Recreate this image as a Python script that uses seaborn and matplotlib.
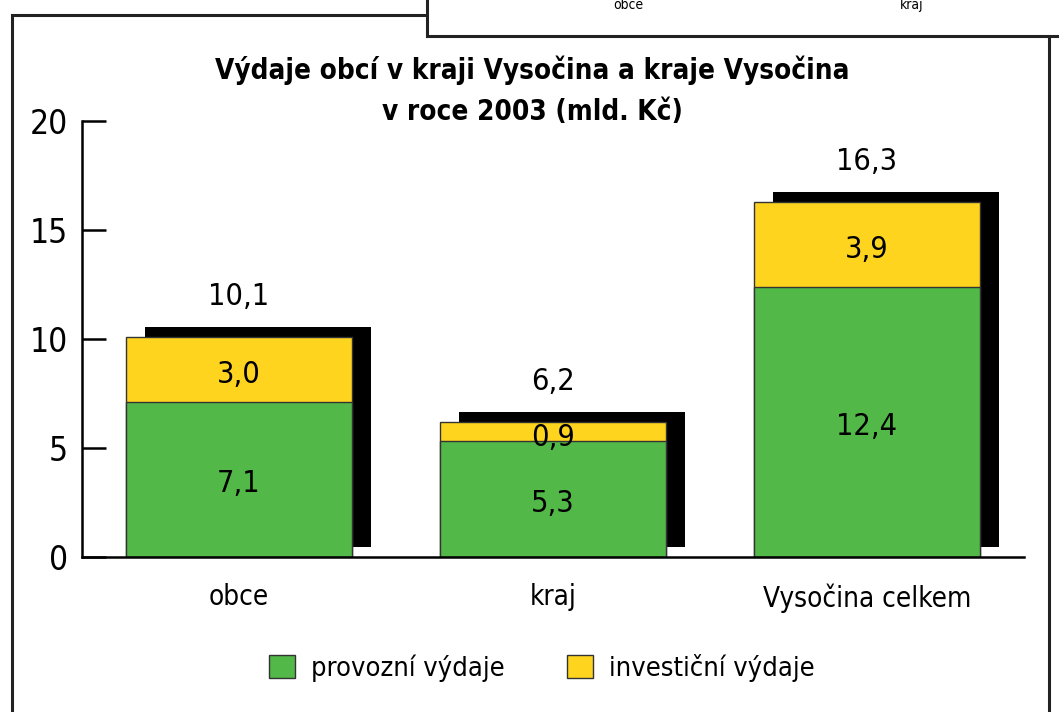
import matplotlib
matplotlib.use("Agg")
import matplotlib.pyplot as plt
import matplotlib.transforms as mtransforms
from matplotlib.patches import Rectangle, Patch
from matplotlib import font_manager
import seaborn as sns
import pandas as pd

categories = ["obce", "kraj", "Vysočina celkem"]
provozni = [7.1, 5.3, 12.4]
investicni = [3.0, 0.9, 3.9]
totals = [10.1, 6.2, 16.3]
yticks = [0, 5, 10, 15, 20]
series_names = ["provozní výdaje", "investiční výdaje"]
title = "Výdaje obcí v kraji Vysočina a kraje Vysočina\nv roce 2003 (mld. Kč)"

GREEN = "#52B848"
YELLOW = "#FFD41F"

sns.set_theme(style="white")
names = {f.name for f in font_manager.fontManager.ttflist}
fam = "Liberation Sans Narrow" if "Liberation Sans Narrow" in names else "DejaVu Sans"
plt.rcParams["font.family"] = [fam, "DejaVu Sans"]
plt.rcParams["font.stretch"] = "condensed"
plt.rcParams["text.color"] = "black"
plt.rcParams["xtick.color"] = "black"
plt.rcParams["ytick.color"] = "black"
plt.rcParams["xtick.labelcolor"] = "black"
plt.rcParams["ytick.labelcolor"] = "black"

W, H = 1059, 712
fig = plt.figure(figsize=(W / 100, H / 100), dpi=100)
fig.patch.set_facecolor("white")

# frames
fig.patches.append(Rectangle((12 / W, -0.05), (1049 - 12) / W, (H - 15) / H + 0.05,
                             transform=fig.transFigure, fill=False, ec="#222222", lw=2.2))
fig.patches.append(Rectangle((427 / W, (H - 36) / H), 0.7, 0.2,
                             transform=fig.transFigure, fc="white", ec="#222222", lw=2.2))
fig.text(628 / W, (H - 12) / H, "obce", ha="center", va="bottom", fontsize=10, color="black")
fig.text(912 / W, (H - 12) / H, "kraj", ha="center", va="bottom", fontsize=10, color="black")

ax = fig.add_axes([82 / W, (H - 557) / H, (1024 - 82) / W, 436 / H])
ax.set_facecolor("none")

df = pd.DataFrame({"cat": categories, "prov": provozni, "inv": investicni, "tot": totals})

# shadow
shadow = mtransforms.offset_copy(ax.transData, fig=fig, x=19, y=10, units="dots")
sns.barplot(data=df, x="cat", y="tot", color="black", width=0.72, ax=ax,
            saturation=1, edgecolor="none", linewidth=0)
for p in ax.patches:
    p.set_transform(shadow)
    p.set_zorder(1)
n0 = len(ax.patches)
sns.barplot(data=df, x="cat", y="tot", color=YELLOW, width=0.72, ax=ax,
            saturation=1, edgecolor="#333333", linewidth=1)
sns.barplot(data=df, x="cat", y="prov", color=GREEN, width=0.72, ax=ax,
            saturation=1, edgecolor="#333333", linewidth=1)
for p in ax.patches[n0:]:
    p.set_zorder(2)

fs = 22
for i in range(len(categories)):
    ax.text(i, totals[i] + 1.85, f"{totals[i]:.1f}".replace(".", ","), ha="center",
            va="center", fontsize=fs, zorder=5)
    ax.text(i, provozni[i] / 2 - 0.2, f"{provozni[i]:.1f}".replace(".", ","), ha="center",
            va="center", fontsize=fs, zorder=5)
    ax.text(i, provozni[i] + investicni[i] / 2 - 0.25, f"{investicni[i]:.1f}".replace(".", ","),
            ha="center", va="center", fontsize=fs, zorder=5)

ax.set_xlim(-0.5, 2.5)
ax.set_ylim(0, 20)
ax.set_yticks(yticks)
ax.set_yticklabels([str(t) for t in yticks], fontsize=24)
ax.set_xticks([0.5, 1.5, 2.5])
ax.set_xticks([0, 1, 2], minor=True)
ax.set_xticklabels([])
ax.set_xticklabels(categories, minor=True, fontsize=20)
ax.tick_params(axis="x", which="major", direction="in", length=7, width=1.8, color="black")
ax.tick_params(axis="x", which="minor", length=0, pad=19)
ax.tick_params(axis="y", direction="in", length=17, width=1.8, color="black", pad=10, left=True)
ax.set_xlabel("")
ax.set_ylabel("")
for s in ["top", "right"]:
    ax.spines[s].set_visible(False)
for s in ["left", "bottom"]:
    ax.spines[s].set_linewidth(1.8)
    ax.spines[s].set_color("black")

fig.text(532 / W, (H - 70) / H, title.split("\n")[0], ha="center", va="center",
         fontsize=20, fontweight="bold")
fig.text(532 / W, (H - 112) / H, title.split("\n")[1], ha="center", va="center",
         fontsize=20, fontweight="bold")

handles = [Patch(fc=GREEN, ec="#333333", lw=1), Patch(fc=YELLOW, ec="#333333", lw=1)]
fig.legend(handles, series_names, loc="center", bbox_to_anchor=(542 / W, (H - 668) / H),
           ncol=2, frameon=False, fontsize=19.5, handlelength=0.95, handleheight=0.95,
           handletextpad=0.6, columnspacing=2.3)

fig.savefig("out.png", dpi=100, facecolor="white")
